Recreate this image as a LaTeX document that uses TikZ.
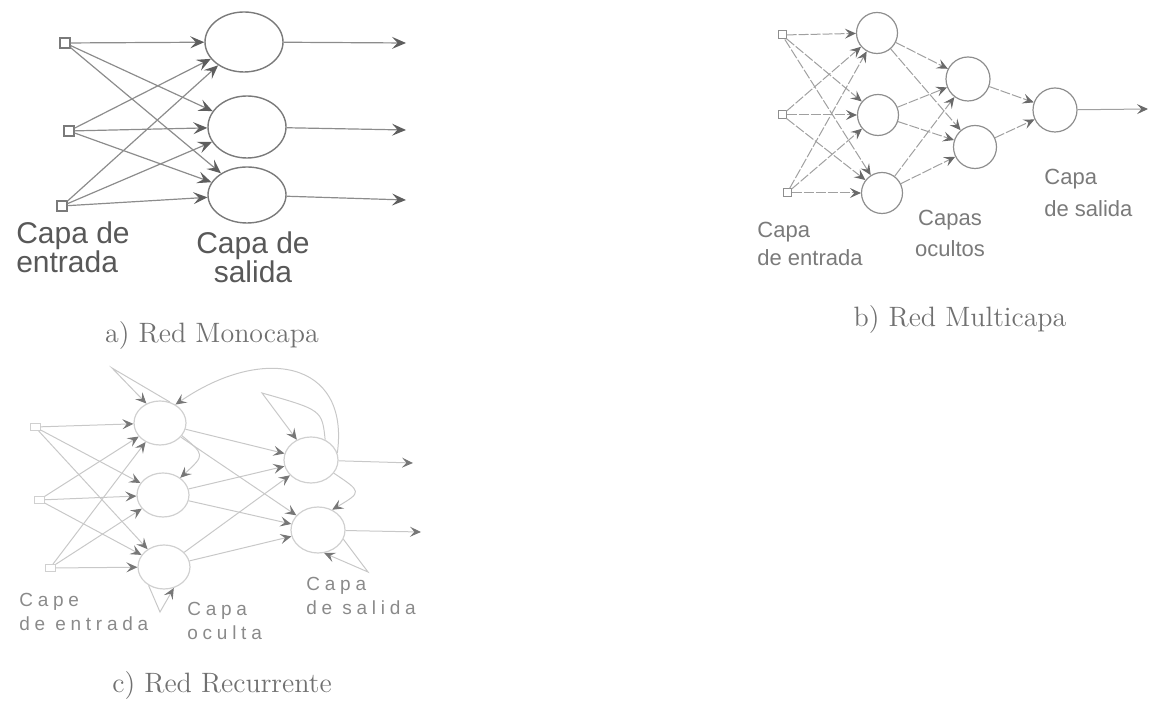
\documentclass[tikz,border=0pt]{standalone}
\usepackage{fontspec}
\newfontfamily\arialf{Liberation Sans}
\newfontfamily\arialsp[LetterSpace=25]{Liberation Sans}
\usetikzlibrary{arrows.meta,shapes.geometric}
\definecolor{lnA}{HTML}{8C8C8C}
\definecolor{ciA}{HTML}{7A7A7A}
\definecolor{tpA}{HTML}{5E5E5E}
\definecolor{txA}{HTML}{585858}
\definecolor{lnB}{HTML}{A0A0A0}
\definecolor{ciB}{HTML}{8E8E8E}
\definecolor{tpB}{HTML}{6A6A6A}
\definecolor{txB}{HTML}{7A7A7A}
\definecolor{lnC}{HTML}{C8C8C8}
\definecolor{ciC}{HTML}{D0D0D0}
\definecolor{tpC}{HTML}{777777}
\definecolor{txC}{HTML}{8A8A8A}
\definecolor{capt}{HTML}{707070}
\begin{document}
\begin{tikzpicture}[x=0.5pt,y=-0.5pt,
  neuA/.style={ellipse,draw=ciA,line width=0.7pt,minimum width=39pt,minimum height=30pt,inner sep=0pt},
  inpA/.style={rectangle,draw=ciA,line width=0.6pt,minimum size=5pt,inner sep=0pt},
  conA/.style={draw=lnA,line width=0.6pt,-{Stealth[length=7pt,width=6pt,inset=2.8pt,color=tpA]}},
  neuB/.style={circle,draw=ciB,line width=0.6pt,minimum size=20.5pt,inner sep=0pt},
  inpB/.style={rectangle,draw=ciB,line width=0.5pt,minimum size=4pt,inner sep=0pt},
  conB/.style={draw=lnB,line width=0.5pt,dash pattern=on 5pt off 1pt,-{Stealth[length=5.5pt,width=5pt,inset=2.2pt,color=tpB]}},
  neuC/.style={ellipse,draw=ciC,line width=0.6pt,minimum width=26pt,minimum height=22pt,inner sep=0pt},
  neuCo/.style={ellipse,draw=ciC,line width=0.6pt,minimum width=27pt,minimum height=23pt,inner sep=0pt},
  inpC/.style={rectangle,draw=ciC,line width=0.5pt,minimum width=5pt,minimum height=3.5pt,inner sep=0pt},
  conC/.style={draw=lnC,line width=0.5pt,-{Stealth[length=5.5pt,width=5pt,inset=2.2pt,color=tpC]}},
  lblA/.style={text=txA,font=\arialf\fontsize{15}{14.5}\selectfont,inner sep=0pt},
  lblB/.style={text=txB,font=\arialf\fontsize{11}{14}\selectfont,inner sep=0pt},
  lblC/.style={text=txC,font=\arialsp\fontsize{9.5}{12}\selectfont,inner sep=0pt},
  capstyle/.style={text=capt,font=\fontsize{14}{16}\selectfont,inner sep=0pt}]
\useasboundingbox (0,0) rectangle (1150,704);

% ---------------- a) Red Monocapa ----------------
\node[inpA] (ai1) at (65,43) {};
\node[inpA] (ai2) at (69,131) {};
\node[inpA] (ai3) at (62,206) {};
\node[neuA] (ao1) at (244,42) {};
\node[neuA,minimum height=31pt] (ao2) at (247,127) {};
\node[neuA,minimum height=28pt] (ao3) at (247,195) {};
\coordinate (ae1) at (406,43);
\coordinate (ae2) at (406,130);
\coordinate (ae3) at (406,200);
\foreach \i in {1,2,3}{
  \foreach \j in {1,2,3}{
    \draw[conA] (ai\i) -- (ao\j);
  }
  \draw[conA] (ao\i) -- (ae\i);
}
\node[lblA,align=left] (alin) at (73,247) {Capa de\\entrada};
\node[lblA,align=center] (alout) at (253,257) {Capa de\\salida};
\node[capstyle] (acap) at (212,336) {a) Red Monocapa};

% ---------------- b) Red Multicapa ----------------
\node[inpB] (bi1) at (782,35) {};
\node[inpB] (bi2) at (782,115) {};
\node[inpB] (bi3) at (787,193) {};
\node[neuB] (bh1) at (877,33) {};
\node[neuB] (bh2) at (878,115) {};
\node[neuB] (bh3) at (882,193) {};
\node[neuB,minimum size=22pt] (bg1) at (968,79) {};
\node[neuB,minimum size=21.5pt] (bg2) at (975,147) {};
\node[neuB,minimum size=22pt] (bo) at (1055,110) {};
\coordinate (be) at (1148,109);
\foreach \i in {1,2,3}{
  \foreach \j in {1,2,3}{
    \draw[conB] (bi\i) -- (bh\j);
  }
  \foreach \j in {1,2}{
    \draw[conB] (bh\i) -- (bg\j);
  }
}
\draw[conB] (bg1) -- (bo);
\draw[conB] (bg2) -- (bo);
\draw[conB,dash pattern=] (bo) -- (be);
\node[lblB,align=left,anchor=west] (blin) at (757,244) {Capa\\de entrada};
\node[lblB,align=center,font=\arialf\fontsize{11}{15.5}\selectfont] (bloc) at (950,233) {Capas\\ocultos};
\node[lblB,align=left,anchor=west,font=\arialf\fontsize{11}{16}\selectfont] (blout) at (1044,193) {Capa\\de salida};
\node[capstyle] (bcap) at (960,320) {b) Red Multicapa};

% ---------------- c) Red Recurrente ----------------
\node[inpC] (ci1) at (35,427) {};
\node[inpC] (ci2) at (39,500) {};
\node[inpC] (ci3) at (50,568) {};
\node[neuC] (ch1) at (160,423) {};
\node[neuC] (ch2) at (163,495) {};
\node[neuC] (ch3) at (164,567) {};
\node[neuCo] (co1) at (311,460) {};
\node[neuCo] (co2) at (318,530) {};
\coordinate (ce1) at (413,463);
\coordinate (ce2) at (421,532);
\foreach \i in {1,2,3}{
  \foreach \j in {1,2,3}{
    \draw[conC] (ci\i) -- (ch\j);
  }
  \foreach \j in {1,2}{
    \draw[conC] (ch\i) -- (co\j);
  }
}
\draw[conC] (co1) -- (ce1);
\draw[conC] (co2) -- (ce2);
% recurrent connections
\coordinate (cl1) at (112,368);
\coordinate (cl2) at (262,393);
\coordinate (cl3) at (160,612);
\coordinate (cl4) at (368,572);
\draw[conC] (ch1.65) -- (cl1) -- (ch1.125);
\draw[conC] (co1.15) .. controls (350,360) and (262,345) .. (ch1.50);
\draw[conC] (co1.55) .. controls (322,410) .. (cl2) -- (co1.125);
\draw[conC] (ch3.230) -- (cl3) -- (ch3.295);
\draw[conC] (co2.340) -- (cl4) -- (co2.285);
\draw[conC] (co1.330) .. controls (362,492) .. (co2.55);
\draw[conC] (ch1.330) .. controls (205,455) .. (ch2.45);
\node[lblC,align=left,anchor=west] (clin) at (19,612) {Cape\\de entrada};
\node[lblC,align=left,anchor=west] (cloc) at (187,621) {Capa\\oculta};
\node[lblC,align=left,anchor=west] (clout) at (306,596) {Capa\\de salida};
\node[capstyle] (ccap) at (222,686) {c) Red Recurrente};
\end{tikzpicture}
\end{document}
